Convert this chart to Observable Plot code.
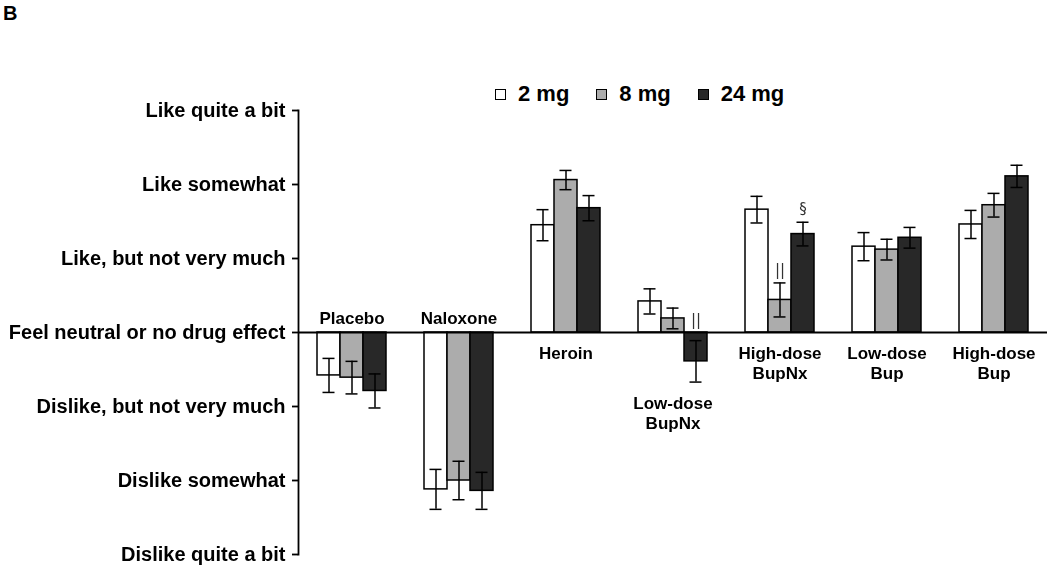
<!DOCTYPE html>
<html>
<head>
<meta charset="utf-8">
<script src="https://cdn.jsdelivr.net/npm/d3@7"></script>
<script src="https://cdn.jsdelivr.net/npm/@observablehq/plot@0.6"></script>
<style>
  html, body { margin: 0; padding: 0; background: #fff; }
  #wrap { position: relative; width: 1050px; height: 567px; overflow: hidden; font-family: "Liberation Sans", Arial, sans-serif; }
  #wrap svg { position: absolute; left: 0; top: 0; will-change: transform; }
  #wrap svg g[aria-label^="y-axis"], #wrap svg g[aria-label="frame"] { stroke-width: 1.8px; }
  #panel { position: absolute; left: 3px; top: 2px; font: bold 20px/22px "Liberation Sans", Arial, sans-serif; }
  #legend { position: absolute; left: 495px; top: 82px; display: flex; align-items: center; font: bold 22px/24px "Liberation Sans", Arial, sans-serif; color: #000; }
  #legend .item { display: flex; align-items: center; margin-right: 27px; }
  #legend .sw { width: 9px; height: 9px; border: 1px solid #000; margin-right: 12px; }
</style>
</head>
<body>
<div id="wrap">
  <div id="panel">B</div>
  <div id="legend"></div>
</div>
<script>
// ---- data ----
const groups = ["Placebo", "Naloxone", "Heroin", "Low-dose BupNx", "High-dose BupNx", "Low-dose Bup", "High-dose Bup"];
const groupLabels = ["Placebo", "Naloxone", "Heroin", "Low-dose\nBupNx", "High-dose\nBupNx", "Low-dose\nBup", "High-dose\nBup"];
const doses = ["2 mg", "8 mg", "24 mg"];
const doseColors = ["#ffffff", "#acacac", "#282828"];
const mean2mg  = [-0.58, -2.12, 1.45,  0.42, 1.66, 1.16, 1.46];
const mean8mg  = [-0.61, -2.00, 2.06,  0.19, 0.44, 1.12, 1.72];
const mean24mg = [-0.79, -2.14, 1.68, -0.39, 1.33, 1.28, 2.11];
const sem2mg   = [0.23, 0.27, 0.21, 0.17, 0.18, 0.19, 0.19];
const sem8mg   = [0.22, 0.26, 0.13, 0.14, 0.23, 0.14, 0.16];
const sem24mg  = [0.23, 0.25, 0.17, 0.28, 0.16, 0.14, 0.15];
const yTicks = [-3, -2, -1, 0, 1, 2, 3];
const yTickLabels = ["Dislike quite a bit", "Dislike somewhat", "Dislike, but not very much",
  "Feel neutral or no drug effect", "Like, but not very much", "Like somewhat", "Like quite a bit"];
const noteGroups = ["Low-dose BupNx", "High-dose BupNx", "High-dose BupNx"];
const noteDoses = ["24 mg", "8 mg", "24 mg"];
const noteSymbols = ["||", "||", "\u00a7"];

// ---- build table ----
const means = [mean2mg, mean8mg, mean24mg];
const sems = [sem2mg, sem8mg, sem24mg];
const rows = groups.flatMap((g, i) => doses.map((d, j) => ({
  group: g, dose: d, value: means[j][i], sem: sems[j][i]
})));
const labelRows = groups.map((g, i) => {
  const r = rows.filter(d => d.group === g);
  const allNeg = r.every(d => d.value < 0);
  const low = Math.min(0, ...r.map(d => d.value - d.sem));
  return {group: g, label: groupLabels[i], allNeg, y: allNeg ? 0 : low};
});
const notes = noteGroups.map((g, i) => {
  const r = rows.find(d => d.group === g && d.dose === noteDoses[i]);
  return {group: g, dose: noteDoses[i], text: noteSymbols[i], y: Math.max(0, r.value + r.sem)};
});

// ---- legend ----
const legend = document.getElementById("legend");
doses.forEach((d, i) => {
  const item = document.createElement("div");
  item.className = "item";
  const sw = document.createElement("span");
  sw.className = "sw";
  sw.style.background = doseColors[i];
  const t = document.createElement("span");
  t.textContent = d;
  item.appendChild(sw); item.appendChild(t);
  legend.appendChild(item);
});

// ---- chart ----
const chart = Plot.plot({
  width: 1050,
  height: 567,
  marginLeft: 296,
  marginRight: 1,
  marginTop: 110,
  marginBottom: 13,
  style: {fontFamily: '"Liberation Sans", Arial, sans-serif', fontSize: "20px", fontWeight: "bold", color: "#000", background: "transparent"},
  fx: {domain: groups, padding: 0, axis: null},
  x: {domain: doses, paddingInner: 0, paddingOuter: 0.74, axis: null},
  y: {domain: [-3, 3], ticks: yTicks, tickFormat: v => yTickLabels[yTicks.indexOf(v)], tickSize: 6, tickPadding: 7, line: true, label: null},
  color: {domain: doses, range: doseColors},
  marks: [
    Plot.barY(rows, {fx: "group", x: "dose", y: "value", fill: "dose", stroke: "#000", strokeWidth: 1.5}),
    Plot.ruleX(rows, {fx: "group", x: "dose", y1: d => d.value - d.sem, y2: d => d.value + d.sem, stroke: "#000", strokeWidth: 1.5}),
    Plot.tickY(rows, {fx: "group", x: "dose", y: d => d.value - d.sem, stroke: "#000", strokeWidth: 1.5, inset: 5.5}),
    Plot.tickY(rows, {fx: "group", x: "dose", y: d => d.value + d.sem, stroke: "#000", strokeWidth: 1.5, inset: 5.5}),
    Plot.ruleY([0], {stroke: "#000", strokeWidth: 2}),
    Plot.text(labelRows.filter(d => d.allNeg), {fx: "group", y: "y", text: "label", frameAnchor: "middle", lineAnchor: "bottom", dy: -9, fontSize: 17, fontWeight: "bold", fill: "#000"}),
    Plot.text(labelRows.filter(d => !d.allNeg), {fx: "group", y: "y", text: "label", frameAnchor: "middle", lineAnchor: "top", dy: 13, lineHeight: 1.15, fontSize: 17, fontWeight: "bold", fill: "#000"}),
    Plot.text(notes, {fx: "group", x: "dose", y: "y", text: "text", lineAnchor: "bottom", dy: -8, fontSize: 15, fontWeight: "normal", fill: "#333", fontFamily: '"DejaVu Sans", sans-serif'})
  ]
});
document.getElementById("wrap").appendChild(chart);
</script>
</body>
</html>
